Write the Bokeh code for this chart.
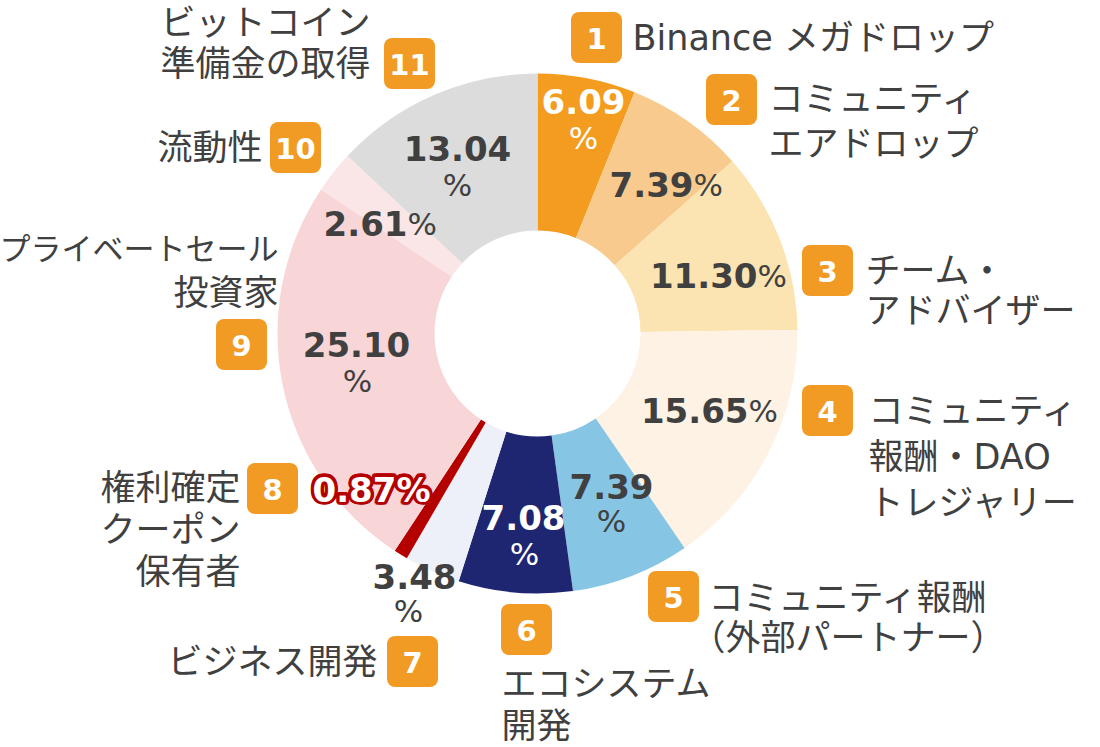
import numpy as np
from bokeh.plotting import figure
from bokeh.models import ColumnDataSource, Range1d
from bokeh.core.properties import value
from bokeh.embed import file_html
from bokeh.resources import INLINE

# ---------------- data ----------------
numbers = ["1", "2", "3", "4", "5", "6", "7", "8", "9", "10", "11"]
shares = [6.09, 7.39, 11.30, 15.65, 7.39, 7.08, 3.48, 0.87, 25.10, 2.61, 13.04]
names = [
    ["Binance メガドロップ"],
    ["コミュニティ", "エアドロップ"],
    ["チーム・", "アドバイザー"],
    ["コミュニティ", "報酬・DAO", "トレジャリー"],
    ["コミュニティ報酬", "（外部パートナー）"],
    ["エコシステム", "開発"],
    ["ビジネス開発"],
    ["権利確定", "クーポン", "保有者"],
    ["プライベートセール", "投資家"],
    ["流動性"],
    ["ビットコイン", "準備金の取得"],
]
colors = ["#F39C1F", "#F8CA8D", "#FCE3B2", "#FEF2E4", "#86C5E3", "#1F2671",
          "#EDEFF9", "#B50000", "#F8D5D6", "#FBE6E7", "#DCDCDC"]

# ---------------- layout (image pixel coordinates) ----------------
W, H = 1100, 747
CX, CY = 537, 333
R_OUT, R_IN = 260, 103
TEXT = "#404040"
ORANGE = "#F29B24"
JP_FONT = "DejaVu Sans, Noto Sans CJK JP"
NUM_FONT = "DejaVu Sans"
JP_SIZE = 35

box_pos = [(596, 37), (731, 99), (827, 270), (827, 410), (673, 596), (526, 629),
           (412, 661), (272, 488), (241, 344), (295, 147), (409, 63)]
# (x, align, first line y, line step)
name_pos = [(632, "left", 37, 0), (768, "left", 98, 45), (865, "left", 270, 40),
            (868, "left", 410, 46), (708, "left", 597, 40), (501, "left", 683, 42),
            (377, "right", 661, 0), (240, "right", 487, 42), (278, "right", 248, 44),
            (262, "right", 147, 0), (160, "left", 22, 41)]
# per-line font size overrides (slice index, line index) -> px
size_override = {(8, 0): 31}
# per-line x nudges (slice index, line index) -> px
x_nudge = {(4, 1): -18}
# percentage labels: ("two", nx, ny, px, py) / ("one", split_x, y) / ("whole", x, y)
pct_pos = [("two", 583, 101, 583, 137), ("one", 693, 184), ("one", 757, 275),
           ("one", 748, 410), ("two", 611, 486, 611, 520), ("two", 523, 517, 524, 553),
           ("two", 414, 576, 408, 610), ("whole", 371, 489), ("two", 356, 344, 357, 380),
           ("one", 407, 223), ("two", 457, 148, 457, 184)]
num_color = [("#FFFFFF" if i in (0, 5) else TEXT) for i in range(len(shares))]


def Y(y):
    return H - y


p = figure(width=W, height=H, output_backend="svg", toolbar_location=None,
           x_range=Range1d(0, W), y_range=Range1d(0, H),
           x_axis_location=None, y_axis_location=None, min_border=0,
           outline_line_color=None, background_fill_color="white")
p.grid.visible = False

# ---------------- donut ----------------
frac = np.array(shares) / sum(shares)
cum = np.concatenate([[0], np.cumsum(frac)])
start = np.pi / 2 - 2 * np.pi * cum[:-1]
end = np.pi / 2 - 2 * np.pi * cum[1:]
src = ColumnDataSource(dict(start=start, end=end, color=colors))
p.annular_wedge(x=CX, y=Y(CY), inner_radius=R_IN, outer_radius=R_OUT,
                start_angle="start", end_angle="end", direction="clock",
                fill_color="color", line_color=None, source=src)


def txt(x, y, s, size, color, font, align="center", style="normal", outline=None):
    kw = dict(x=[x], y=[Y(y)], text=[s], text_font_size=f"{size}px", text_color=color,
              text_font=value(font), text_align=align, text_baseline="middle",
              text_font_style=style)
    if outline is not None:
        try:
            p.text(text_outline_color=outline, **kw)
            return
        except Exception:
            pass
    p.text(**kw)


# ---------------- number boxes ----------------
bx = [b[0] for b in box_pos]
by = [Y(b[1]) for b in box_pos]
try:
    p.rect(x=bx, y=by, width=51, height=51, fill_color=ORANGE, line_color=None,
           border_radius=8)
except Exception:
    p.rect(x=bx, y=by, width=51, height=51, fill_color=ORANGE, line_color=None)
for (x, y), n in zip(box_pos, numbers):
    txt(x, y + 1, n, 29, "white", NUM_FONT, style="bold")

# ---------------- category names ----------------
for i, ((x, align, y0, step), lines) in enumerate(zip(name_pos, names)):
    for k, line in enumerate(lines):
        txt(x + x_nudge.get((i, k), 0), y0 + k * step, line,
            size_override.get((i, k), JP_SIZE), TEXT, JP_FONT, align=align)

# ---------------- percentage labels ----------------
for i, (v, lay) in enumerate(zip(shares, pct_pos)):
    num = f"{v:.2f}"
    c = num_color[i]
    if lay[0] == "two":
        _, nx, ny, px, py = lay
        txt(nx, ny, num, 34, c, NUM_FONT, style="bold")
        txt(px, py, "%", 31, c, NUM_FONT)
    elif lay[0] == "one":
        _, sx, y = lay
        txt(sx, y, num, 34, c, NUM_FONT, align="right", style="bold")
        txt(sx, y, "%", 31, c, NUM_FONT, align="left")
    else:
        _, x, y = lay
        # thick dark-red halo behind white bold text
        for a in np.linspace(0, 2 * np.pi, 12, endpoint=False):
            txt(x + 2.8 * np.cos(a), y + 2.8 * np.sin(a), num + "%", 34, colors[i],
                NUM_FONT, style="bold", outline=colors[i])
        txt(x, y, num + "%", 34, "white", NUM_FONT, style="bold")

open("out.html", "w").write(file_html(p, INLINE))
